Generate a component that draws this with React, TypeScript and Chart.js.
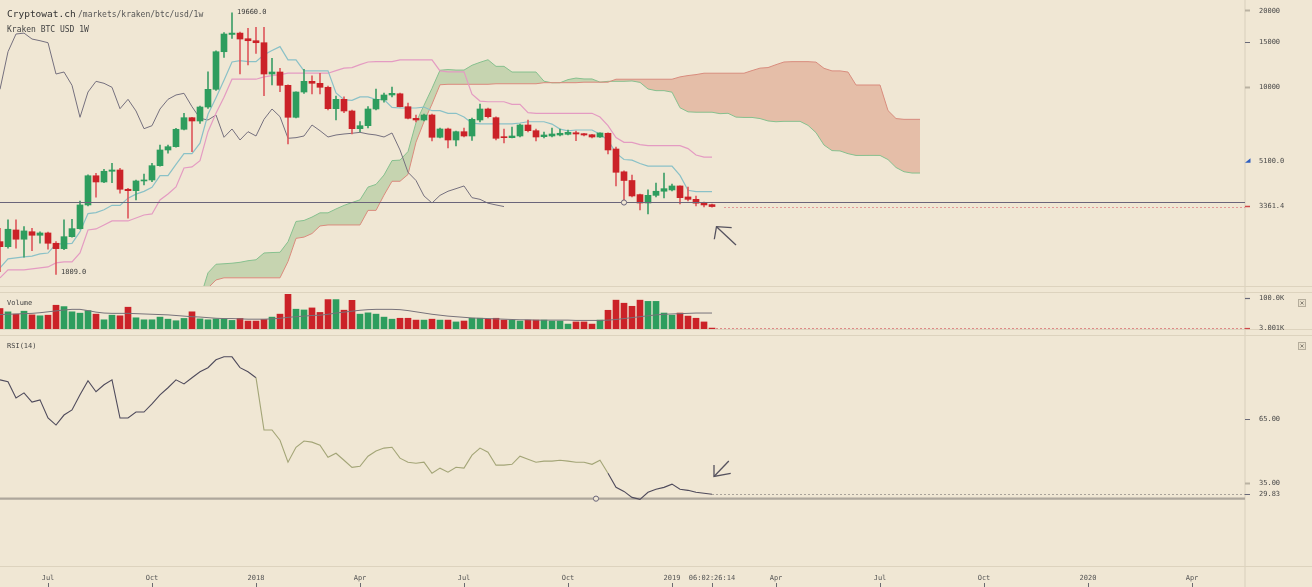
import React, { useEffect, useRef } from 'react';
import { Chart, registerables } from 'chart.js';

Chart.register(...registerables);

// ---------------- data (weekly candles, index 0 = week of 22 May 2017) ----------------
const OPEN = [
  2441, 2332, 2715, 2495, 2672, 2587, 2642, 2405, 2290, 2554,
  2748, 3411, 4452, 4206, 4637, 4692, 3935, 3885, 4245, 4283,
  4880, 5631, 5803, 6800, 7559, 7335, 8333, 9792, 13795, 16150,
  16350, 15535, 15253, 14977, 11258, 11465, 10156, 7586, 9554, 10532,
  10343, 9973, 8205, 8939, 8035, 6837, 7027, 8183, 8883, 9297,
  9400, 8356, 7517, 7402, 7747, 6322, 6819, 6168, 6653, 6397,
  7402, 8183, 7559, 6339, 6299, 6397, 7072, 6714, 6357, 6397,
  6456, 6497, 6590, 6533, 6470, 6339, 6557, 5682, 4615, 4263,
  3748, 3472, 3723, 3865, 3911, 4056, 3669, 3590, 3466, 3420,
];
const HIGH = [
  2758, 2975, 2975, 2799, 2758, 2672, 2666, 2441, 2975, 2994,
  3537, 4494, 4553, 4722, 4988, 4766, 3971, 4283, 4524, 4988,
  5893, 5893, 6862, 7867, 7580, 8409, 11496, 13922, 16418, 19660,
  16500, 17076, 17224, 17224, 12990, 11858, 10200, 9580, 11750, 11083,
  11329, 10092, 9212, 9150, 8100, 7288, 8356, 9819, 9468, 10000,
  9468, 8643, 7747, 7818, 7818, 6881, 6881, 6696, 6881, 7538,
  8565, 8258, 7620, 6819, 6944, 7135, 7402, 6819, 6635, 6881,
  6819, 6757, 6696, 6557, 6500, 6590, 6580, 5787, 4657, 4475,
  3770, 3911, 4168, 4566, 4130, 4060, 4019, 3702, 3505, 3440,
];
const LOW = [
  1857, 2300, 2298, 2117, 2249, 2405, 2278, 1809, 2270, 2540,
  2733, 3380, 3659, 4180, 4177, 3795, 3021, 3570, 4093, 4215,
  4860, 5464, 5780, 6757, 5544, 7182, 8235, 9700, 13110, 15588,
  11258, 12221, 13595, 9237, 10184, 9580, 5948, 7550, 9441, 9382,
  9382, 8108, 7402, 7911, 6515, 6653, 6880, 8108, 8702, 9129,
  8333, 7470, 7268, 7335, 6112, 6282, 5734, 5840, 6339, 6150,
  7268, 7538, 6168, 6002, 6282, 6339, 6635, 6112, 6282, 6339,
  6397, 6456, 6130, 6397, 6282, 6320, 5429, 4056, 3505, 3669,
  3259, 3142, 3669, 3636, 3875, 3442, 3537, 3380, 3349, 3340,
];
const CLOSE = [
  2332, 2733, 2495, 2691, 2587, 2642, 2405, 2290, 2554, 2748,
  3411, 4452, 4206, 4637, 4692, 3935, 3885, 4245, 4283, 4880,
  5631, 5803, 6800, 7559, 7335, 8333, 9792, 13795, 16212, 16350,
  15489, 15253, 14977, 11258, 11465, 10156, 7586, 9554, 10532, 10343,
  9973, 8205, 8939, 8035, 6837, 7027, 8183, 8939, 9297, 9441,
  8356, 7517, 7402, 7747, 6322, 6819, 6168, 6653, 6397, 7447,
  8183, 7629, 6264, 6299, 6397, 7072, 6714, 6339, 6456, 6515,
  6557, 6613, 6515, 6456, 6339, 6575, 5631, 4594, 4263, 3702,
  3472, 3723, 3865, 3957, 4056, 3645, 3590, 3466, 3411, 3361.4,
];
// volume in thousands
const VOLUME = [
  66.8, 55.9, 48.4, 58, 46, 43, 45, 77.4, 73, 56,
  51.6, 60, 48.4, 30, 45, 43, 71, 36.5, 30, 30,
  38.7, 32, 26.9, 34.4, 56, 33, 30, 33, 33, 28,
  34.4, 25.8, 25.8, 31, 38.7, 48.4, 113, 64.5, 62, 68.7,
  54, 95.8, 95.8, 61.3, 93.5, 48.4, 52.6, 48.4, 38.7, 32,
  35, 35, 29, 29, 32, 29, 29, 23, 26, 35,
  35, 32, 35, 29, 29, 26, 29, 29, 29, 26,
  26, 16, 23, 23, 16, 29, 61, 94, 84, 74,
  94, 90, 90, 52, 45, 52, 42, 35, 23, 3.001,
];
const VOLUME_MA = [
  47, 48, 49, 50, 51, 53, 56, 59, 62, 64,
  64, 60, 55, 52, 51, 51, 51, 50, 49, 48,
  47, 46, 44, 42, 40, 39, 37, 35, 34, 34,
  33, 32, 32, 32, 33, 35, 38, 40, 42, 44,
  45, 48, 52, 55, 58, 61, 63, 64, 64, 64,
  63, 60, 56, 52, 48, 45, 42, 40, 38, 36,
  35, 34, 33, 32, 31, 30, 30, 29, 29, 29,
  29, 29, 28, 28, 28, 28, 29, 31, 34, 37,
  40, 43, 46, 48, 49, 50, 51, 52, 52, 52,
];
const TENKAN = [
  1920, 2085, 2104, 2123, 2140, 2182, 2200, 2392, 2392, 2402,
  2673, 3152, 3181, 3266, 3399, 3399, 3629, 3764, 3861, 4005,
  4457, 4457, 4942, 5444, 5444, 5990, 7795, 9069, 10639, 12562,
  12720, 12602, 12602, 13421, 13948, 14449, 12804, 12804, 11586, 11586,
  11586, 11586, 9469, 8903, 8849, 9133, 9133, 8922, 8922, 8304,
  8258, 8258, 8258, 8327, 8056, 8056, 7867, 7867, 7601, 7189,
  7150, 7150, 7150, 7150, 7150, 7203, 7284, 7284, 7284, 7130,
  6811, 6702, 6757, 6757, 6757, 6497, 6155, 5469, 5162, 5131,
  4978, 4861, 4861, 4866, 4861, 4465, 3900, 3854, 3854, 3854,
];
const KIJUN = [
  1753, 1886, 1886, 1886, 1903, 1920, 1938, 2010, 2028, 2028,
  2202, 2715, 2740, 2842, 2948, 2948, 2948, 3029, 3113, 3142,
  3570, 3770, 4019, 4779, 4823, 5109, 6652, 7866, 9114, 10735,
  10735, 10735, 10735, 10965, 11100, 11197, 11340, 11340, 11340, 11340,
  11340, 11340, 11615, 11877, 11938, 12260, 12562, 12602, 12602, 12602,
  12804, 12804, 12804, 12804, 12804, 11586, 11479, 11479, 11479, 9362,
  8796, 8742, 8742, 8742, 8532, 8532, 7913, 7867, 7867, 7867,
  7867, 7867, 7867, 7867, 7867, 7601, 7036, 6311, 6035, 6035,
  5912, 5854, 5854, 5854, 5854, 5854, 5700, 5381, 5272, 5272,
];
// cloud spans start at week index 25 and run 26 weeks past the last candle
const CLOUD_START = 25;
const SENKOU_A = [
  1450,
  1837, 1986, 1995, 2005, 2022, 2051, 2069, 2201, 2210, 2215,
  2438, 2934, 2961, 3054, 3174, 3174, 3289, 3397, 3487, 3574,
  4014, 4114, 4481, 5112, 5134, 5550, 7224, 8468, 9877, 11649,
  11728, 11669, 11669, 12193, 12524, 12823, 12072, 12072, 11463, 11463,
  11463, 11463, 10542, 10390, 10394, 10697, 10848, 10762, 10762, 10453,
  10531, 10531, 10531, 10566, 10430, 9821, 9673, 9673, 9540, 8276,
  7973, 7946, 7946, 7946, 7841, 7868, 7599, 7576, 7576, 7499,
  7339, 7285, 7312, 7312, 7312, 7049, 6596, 5890, 5599, 5583,
  5445, 5358, 5358, 5360, 5358, 5160, 4800, 4618, 4563, 4563,
];
const SENKOU_B = [
  1450,
  1600, 1721, 1755, 1755, 1755, 1755, 1755, 1755, 1755, 1755,
  2036, 2515, 2544, 2628, 2816, 2842, 2842, 2842, 2842, 2842,
  3246, 3246, 3731, 4233, 4233, 4504, 6048, 7286, 8559, 10205,
  10250, 10250, 10250, 10250, 10250, 10250, 10300, 10300, 10300, 10300,
  10300, 10300, 10400, 10400, 10400, 10400, 10400, 10450, 10450, 10450,
  10450, 10735, 10735, 10735, 10735, 10735, 10735, 10735, 10735, 10965,
  11100, 11197, 11340, 11340, 11340, 11340, 11340, 11340, 11615, 11877,
  11938, 12260, 12562, 12602, 12602, 12602, 12545, 11858, 11583, 11583,
  11460, 10183, 10183, 10183, 10183, 8066, 7500, 7446, 7446, 7446,
];
const CHIKOU_SHIFT = 26;
const RSI = [
  83.5, 82.6, 75.0, 77.4, 73.1, 74.1, 65.6, 62.3, 67.0, 69.4,
  76.5, 83.1, 77.9, 81.2, 83.5, 65.6, 65.6, 68.4, 68.4, 72.2,
  76.5, 79.8, 83.5, 81.6, 84.5, 87.3, 89.2, 92.9, 94.3, 94.3,
  89.2, 87.3, 84.5, 60.0, 60.0, 55.2, 44.9, 51.9, 54.8, 54.3,
  52.9, 47.2, 49.1, 45.8, 42.5, 43.0, 47.7, 50.1, 51.5, 51.9,
  46.8, 44.9, 44.4, 44.9, 39.7, 42.1, 40.2, 42.5, 42.1, 48.2,
  51.5, 49.6, 43.5, 43.5, 43.9, 47.7, 46.3, 44.9, 45.4, 45.4,
  45.8, 45.4, 44.9, 44.9, 43.9, 45.8, 39.7, 33.1, 31.2, 28.4,
  27.5, 30.8, 32.2, 33.1, 34.6, 32.2, 31.7, 30.8, 30.3, 29.83,
];
const RSI_MID_FROM = 32;
const RSI_MID_TO = 76;

const X_TICKS = [6, 19, 32, 45, 58, 71, 84, 89, 97, 110, 123, 136, 149];
const X_LABELS = ['Jul', 'Oct', '2018', 'Apr', 'Jul', 'Oct', '2019', '06:02:26:14', 'Apr', 'Jul', 'Oct', '2020', 'Apr'];
const PRICE_TICKS = [3361.4, 5100, 10000, 15000, 20000];
const PRICE_LABELS = ['3361.4', '5100.0', '10000', '15000', '20000'];
const VOL_TICKS = [3.001, 100];
const VOL_LABELS = ['3.001K', '100.0K'];
const RSI_TICKS = [29.83, 35, 65];
const RSI_LABELS = ['29.83', '35.00', '65.00'];

// user drawings on the chart
const PRICE_DRAW_LEVEL = 3496;
const PRICE_DRAW_PIN = 78;
const PRICE_ARROW = [[92, 2368], [89.56, 2798], [89.29, 2495], [91.46, 2773]];
const RSI_DRAW_LEVEL = 27.8;
const RSI_DRAW_PIN = 74.5;
const RSI_ARROW = [[91.1, 45.45], [89.25, 38.2], [89.25, 43.6], [91.34, 39.7]];
const HIGH_NOTE_INDEX = 29;
const LOW_NOTE_INDEX = 7;

// ---------------- styles ----------------
const MONO = "'DejaVu Sans Mono', 'Liberation Mono', monospace";
const BG = '#f0e7d4';
const UP = '#2e9d5e';
const DOWN = '#cb2228';
const UP_WICK = '#3e9f68';
const DOWN_WICK = '#de5a5e';
const X_MIN = 0;
const X_MAX = 155.625;
const W = 1312;
const H = 587;

const isUp = CLOSE.map((c, i) => c >= OPEN[i]);

function xScale(display: boolean): any {
  return {
    type: 'linear',
    min: X_MIN,
    max: X_MAX,
    offset: false,
    display,
    grid: { display: false, drawTicks: false, tickLength: 0 },
    border: { display: false },
    afterBuildTicks: (s: any) => {
      s.ticks = X_TICKS.map((v) => ({ value: v }));
    },
    ticks: {
      autoSkip: false,
      maxRotation: 0,
      minRotation: 0,
      padding: 8,
      color: '#555',
      font: { size: 7, family: MONO },
      callback: (_v: any, i: number) => X_LABELS[i],
    },
    afterFit: (s: any) => {
      s.height = display ? 21 : 0;
      s.paddingLeft = 0;
      s.paddingRight = 0;
    },
  };
}

function yRight(extra: any, tickVals: number[], labels: string[], tickColor: (i: number) => string, tickWidth: (i: number) => number): any {
  return {
    position: 'right',
    ...extra,
    grid: {
      display: true,
      drawOnChartArea: false,
      drawTicks: true,
      tickLength: 5,
      tickColor: (c: any) => tickColor(c.index),
      tickWidth: (c: any) => tickWidth(c.index),
    },
    border: { display: false },
    afterBuildTicks: (s: any) => {
      s.ticks = tickVals.map((v) => ({ value: v }));
    },
    ticks: {
      padding: 9,
      color: '#4a4a4a',
      font: { size: 7, family: MONO },
      autoSkip: false,
      callback: (_v: any, i: number) => labels[i],
    },
    afterFit: (s: any) => {
      s.width = 67;
      s.paddingTop = 0;
      s.paddingBottom = 0;
    },
  };
}

function line(ctx: CanvasRenderingContext2D, pts: number[][], color: string, width: number, dash: number[] = []) {
  ctx.save();
  ctx.strokeStyle = color;
  ctx.lineWidth = width;
  ctx.setLineDash(dash);
  ctx.beginPath();
  ctx.moveTo(pts[0][0], pts[0][1]);
  for (let i = 1; i < pts.length; i++) ctx.lineTo(pts[i][0], pts[i][1]);
  ctx.stroke();
  ctx.restore();
}

function closeBox(ctx: CanvasRenderingContext2D, x: number, y: number) {
  ctx.save();
  ctx.fillStyle = '#e9e0cc';
  ctx.strokeStyle = '#b5ad9c';
  ctx.lineWidth = 1;
  ctx.fillRect(x, y, 8, 8);
  ctx.strokeRect(x + 0.5, y + 0.5, 7, 7);
  ctx.strokeStyle = '#8a8478';
  ctx.beginPath();
  ctx.moveTo(x + 2.5, y + 2.5);
  ctx.lineTo(x + 5.5, y + 5.5);
  ctx.moveTo(x + 5.5, y + 2.5);
  ctx.lineTo(x + 2.5, y + 5.5);
  ctx.stroke();
  ctx.restore();
}

function mainConfig(): any {
  const pts = (arr: number[], start = 0) => arr.map((v, i) => ({ x: start + i, y: v }));
  const extras = {
    id: 'mainExtras',
    afterDatasetsDraw(chart: any) {
      const { ctx, chartArea: a, scales } = chart;
      const x = scales.x;
      const y = scales.y;
      const ly = Math.round(y.getPixelForValue(PRICE_DRAW_LEVEL)) + 0.5;
      line(ctx, [[a.left, ly], [a.right, ly]], '#6a657a', 1.2);
      ctx.save();
      ctx.beginPath();
      ctx.arc(x.getPixelForValue(PRICE_DRAW_PIN), ly, 2.6, 0, Math.PI * 2);
      ctx.fillStyle = BG;
      ctx.fill();
      ctx.strokeStyle = '#6a657a';
      ctx.lineWidth = 1;
      ctx.stroke();
      ctx.restore();
      const cy = Math.round(y.getPixelForValue(CLOSE[CLOSE.length - 1])) + 0.5;
      line(ctx, [[x.getPixelForValue(CLOSE.length + 0.5), cy], [a.right, cy]], '#e39a98', 1, [2, 2]);
      const ap = PRICE_ARROW.map((p) => [x.getPixelForValue(p[0]), y.getPixelForValue(p[1])]);
      line(ctx, [ap[0], ap[1]], '#55525e', 1.3);
      line(ctx, [ap[2], ap[1], ap[3]], '#55525e', 1.3);
      // price notes
      ctx.save();
      ctx.font = `7px ${MONO}`;
      ctx.fillStyle = '#3c3c3c';
      ctx.textBaseline = 'middle';
      ctx.fillText(HIGH[HIGH_NOTE_INDEX].toFixed(1), x.getPixelForValue(HIGH_NOTE_INDEX) + 5, y.getPixelForValue(HIGH[HIGH_NOTE_INDEX]) - 1);
      ctx.fillText(LOW[LOW_NOTE_INDEX].toFixed(1), x.getPixelForValue(LOW_NOTE_INDEX) + 5, y.getPixelForValue(LOW[LOW_NOTE_INDEX]) - 2.5);
      ctx.restore();
    },
    afterDraw(chart: any) {
      const { ctx, scales } = chart;
      const y = scales.y;
      ctx.save();
      ctx.textBaseline = 'alphabetic';
      ctx.fillStyle = '#333';
      ctx.font = `9.5px ${MONO}`;
      ctx.fillText('Cryptowat.ch', 7, 17);
      ctx.fillStyle = '#555';
      ctx.font = `8px ${MONO}`;
      ctx.fillText('/markets/kraken/btc/usd/1w', 78, 17);
      ctx.fillStyle = '#444';
      ctx.fillText('Kraken BTC USD 1W', 7, 32);
      // alert marker at 5100
      const ay = y.getPixelForValue(5100);
      ctx.fillStyle = '#2f5fc0';
      ctx.beginPath();
      ctx.moveTo(1245, ay + 2);
      ctx.lineTo(1250.5, ay + 2);
      ctx.lineTo(1250.5, ay - 2.5);
      ctx.closePath();
      ctx.fill();
      ctx.restore();
    },
  };
  return {
    type: 'bar',
    data: {
      datasets: [
        {
          type: 'line',
          data: pts(SENKOU_A, CLOUD_START),
          borderColor: '#86c08e',
          borderWidth: 1,
          pointRadius: 0,
          fill: { target: '+1', above: 'rgba(110,170,100,0.32)', below: 'rgba(205,105,80,0.33)' },
          order: 6,
        },
        {
          type: 'line',
          data: pts(SENKOU_B, CLOUD_START),
          borderColor: '#d98b7d',
          borderWidth: 1,
          pointRadius: 0,
          fill: false,
          order: 5,
        },
        {
          type: 'line',
          data: pts(CLOSE.slice(CHIKOU_SHIFT)),
          borderColor: '#75707e',
          borderWidth: 1,
          pointRadius: 0,
          fill: false,
          order: 4,
        },
        {
          type: 'line',
          data: pts(KIJUN),
          borderColor: '#e49bc2',
          borderWidth: 1.2,
          pointRadius: 0,
          fill: false,
          order: 3,
        },
        {
          type: 'line',
          data: pts(TENKAN),
          borderColor: '#8ac1c7',
          borderWidth: 1.2,
          pointRadius: 0,
          fill: false,
          order: 2,
        },
        {
          type: 'bar',
          data: HIGH.map((h, i) => ({ x: i, y: [LOW[i], h] })),
          backgroundColor: (c: any) => (isUp[c.dataIndex] ? UP_WICK : DOWN_WICK),
          barThickness: 1,
          grouped: false,
          borderWidth: 0,
          order: 1,
        },
        {
          type: 'bar',
          data: OPEN.map((o, i) => ({ x: i, y: [o, CLOSE[i]] })),
          backgroundColor: (c: any) => (isUp[c.dataIndex] ? UP : DOWN),
          barThickness: 6,
          grouped: false,
          borderWidth: 0,
          minBarLength: 1,
          order: 0,
        },
      ],
    },
    options: {
      responsive: false,
      maintainAspectRatio: false,
      animation: false,
      devicePixelRatio: 1,
      layout: { padding: 0 },
      plugins: { legend: { display: false }, tooltip: { enabled: false } },
      scales: {
        x: xScale(false),
        y: yRight(
          { type: 'logarithmic', min: 1628.8, max: 22109 },
          PRICE_TICKS,
          PRICE_LABELS,
          (i) => ['#d0484a', 'rgba(0,0,0,0)', '#bab2a2', '#6a6a78', '#bab2a2'][i],
          (i) => [1.5, 1, 2, 1, 2][i],
        ),
      },
    },
    plugins: [extras],
  };
}

function volConfig(): any {
  const extras = {
    id: 'volExtras',
    afterDatasetsDraw(chart: any) {
      const { ctx, chartArea: a, scales } = chart;
      const vy = Math.round(scales.y.getPixelForValue(VOLUME[VOLUME.length - 1])) + 0.5;
      line(ctx, [[scales.x.getPixelForValue(VOLUME.length - 0.5), vy], [a.right, vy]], '#e08a88', 1, [2, 2]);
    },
    afterDraw(chart: any) {
      const { ctx } = chart;
      ctx.save();
      ctx.font = `7px ${MONO}`;
      ctx.fillStyle = '#444';
      ctx.textBaseline = 'middle';
      ctx.fillText('Volume', 7, 13);
      ctx.restore();
      closeBox(ctx, 1298, 9);
    },
  };
  return {
    type: 'bar',
    data: {
      datasets: [
        {
          type: 'line',
          data: VOLUME_MA.map((v, i) => ({ x: i, y: v })),
          borderColor: '#77727a',
          borderWidth: 1,
          pointRadius: 0,
          fill: false,
          order: 0,
        },
        {
          type: 'bar',
          data: VOLUME.map((v, i) => ({ x: i, y: v })),
          backgroundColor: (c: any) => (isUp[c.dataIndex] ? UP : DOWN),
          barThickness: 6,
          grouped: false,
          borderWidth: 0,
          order: 1,
        },
      ],
    },
    options: {
      responsive: false,
      maintainAspectRatio: false,
      animation: false,
      devicePixelRatio: 1,
      layout: { padding: { top: 3, bottom: 3, left: 0, right: 0 } },
      plugins: { legend: { display: false }, tooltip: { enabled: false } },
      scales: {
        x: xScale(false),
        y: yRight(
          { type: 'linear', min: 0, max: 117.3 },
          VOL_TICKS,
          VOL_LABELS,
          (i) => ['#d0484a', '#6a6a78'][i],
          () => 1.2,
        ),
      },
    },
    plugins: [extras],
  };
}

function rsiConfig(): any {
  const DARK = '#4f4b5c';
  const OLIVE = '#a3a577';
  const extras = {
    id: 'rsiExtras',
    beforeDatasetsDraw(chart: any) {
      const { ctx, chartArea: a, scales } = chart;
      const ly = scales.y.getPixelForValue(RSI_DRAW_LEVEL);
      line(ctx, [[a.left, ly], [a.right, ly]], '#aea79c', 2.4);
    },
    afterDatasetsDraw(chart: any) {
      const { ctx, chartArea: a, scales } = chart;
      const x = scales.x;
      const y = scales.y;
      const ly = y.getPixelForValue(RSI_DRAW_LEVEL);
      ctx.save();
      ctx.beginPath();
      ctx.arc(x.getPixelForValue(RSI_DRAW_PIN), ly, 2.6, 0, Math.PI * 2);
      ctx.fillStyle = BG;
      ctx.fill();
      ctx.strokeStyle = '#6a657a';
      ctx.lineWidth = 1;
      ctx.stroke();
      ctx.restore();
      const ry = Math.round(y.getPixelForValue(RSI[RSI.length - 1])) + 0.5;
      line(ctx, [[x.getPixelForValue(RSI.length - 1), ry], [a.right, ry]], '#aaa49a', 1, [2, 2]);
      const ap = RSI_ARROW.map((p) => [x.getPixelForValue(p[0]), y.getPixelForValue(p[1])]);
      line(ctx, [ap[0], ap[1]], '#55525e', 1.3);
      line(ctx, [ap[2], ap[1], ap[3]], '#55525e', 1.3);
    },
    afterDraw(chart: any) {
      const { ctx, scales } = chart;
      ctx.save();
      ctx.font = `7px ${MONO}`;
      ctx.fillStyle = '#444';
      ctx.textBaseline = 'middle';
      ctx.fillText('RSI(14)', 7, 14);
      ctx.strokeStyle = '#6a6a70';
      ctx.lineWidth = 1;
      ctx.beginPath();
      for (const v of X_TICKS) {
        const px = Math.round(scales.x.getPixelForValue(v)) + 0.5;
        ctx.moveTo(px, 251);
        ctx.lineTo(px, 255);
      }
      ctx.stroke();
      ctx.restore();
      closeBox(ctx, 1298, 10);
    },
  };
  return {
    type: 'line',
    data: {
      datasets: [
        {
          data: RSI.map((v, i) => ({ x: i, y: v })),
          borderColor: DARK,
          borderWidth: 1.1,
          pointRadius: 0,
          fill: false,
          segment: {
            borderColor: (c: any) => (c.p0DataIndex >= RSI_MID_FROM && c.p0DataIndex < RSI_MID_TO ? OLIVE : DARK),
          },
        },
      ],
    },
    options: {
      responsive: false,
      maintainAspectRatio: false,
      animation: false,
      devicePixelRatio: 1,
      layout: { padding: { top: 3, bottom: 0, left: 0, right: 0 } },
      plugins: { legend: { display: false }, tooltip: { enabled: false } },
      scales: {
        x: xScale(true),
        y: yRight(
          { type: 'linear', min: -3.77, max: 104.52 },
          RSI_TICKS,
          RSI_LABELS,
          (i) => ['#6a6a78', '#bab2a2', '#6a6a78'][i],
          (i) => [1, 2, 1][i],
        ),
      },
    },
    plugins: [extras],
  };
}

export default function App() {
  const mainRef = useRef<HTMLCanvasElement>(null);
  const volRef = useRef<HTMLCanvasElement>(null);
  const rsiRef = useRef<HTMLCanvasElement>(null);

  useEffect(() => {
    document.body.style.margin = '0';
    Chart.defaults.font.family = MONO;
    const charts = [
      new Chart(mainRef.current as HTMLCanvasElement, mainConfig()),
      new Chart(volRef.current as HTMLCanvasElement, volConfig()),
      new Chart(rsiRef.current as HTMLCanvasElement, rsiConfig()),
    ];
    return () => charts.forEach((c) => c.destroy());
  }, []);

  const sep = (top: number) => (
    <div style={{ position: 'absolute', left: 0, top, width: W, height: 1, background: '#ddd3be' }} />
  );

  return (
    <div style={{ position: 'absolute', left: 0, top: 0, width: W, height: H, background: BG, overflow: 'hidden' }}>
      <div style={{ position: 'absolute', left: 1244, top: 0, width: 2, height: H, background: '#e4dbc8' }} />
      {sep(286)}
      {sep(292)}
      {sep(329)}
      {sep(335)}
      {sep(566)}
      <canvas ref={mainRef} width={W} height={286} style={{ position: 'absolute', left: 0, top: 0 }} />
      <canvas ref={volRef} width={W} height={42} style={{ position: 'absolute', left: 0, top: 290 }} />
      <canvas ref={rsiRef} width={W} height={255} style={{ position: 'absolute', left: 0, top: 332 }} />
    </div>
  );
}
